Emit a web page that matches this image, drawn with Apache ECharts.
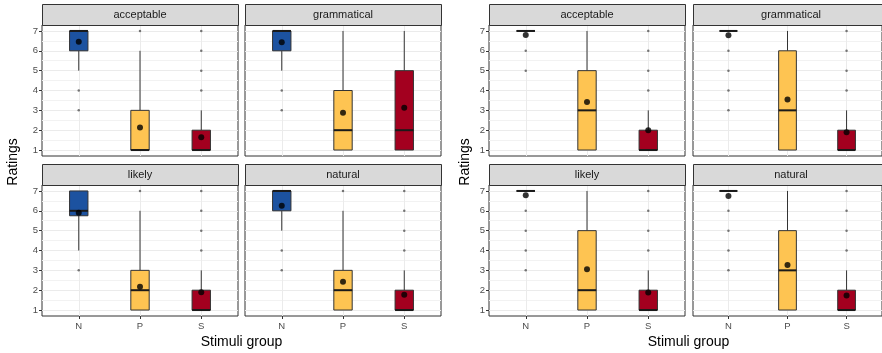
<!DOCTYPE html>
<html>
<head>
<meta charset="utf-8">
<script src="https://cdn.jsdelivr.net/npm/echarts@6/dist/echarts.min.js"></script>
<style>
  html, body { margin: 0; padding: 0; background: #fff; }
  #chart { width: 882px; height: 353px; }
</style>
</head>
<body>
<div id="chart"></div>
<script>
// 分组与分面
const groups = ['N', 'P', 'S'];
const facets = ['acceptable', 'grammatical', 'likely', 'natural'];
const ratingTicks = [1, 2, 3, 4, 5, 6, 7];
const ratingMinor = [1.5, 2.5, 3.5, 4.5, 5.5, 6.5];

// 左图：每个分面 N/P/S 的 [min, q1, median, q3, max]
const leftBoxes = [
  [[5, 6, 7, 7, 7], [1, 1, 1, 3, 6], [1, 1, 1, 2, 3]],
  [[5, 6, 7, 7, 7], [1, 1, 2, 4, 7], [1, 1, 2, 5, 7]],
  [[4, 5.75, 6, 7, 7], [1, 1, 2, 3, 6], [1, 1, 1, 2, 3]],
  [[5, 6, 7, 7, 7], [1, 1, 2, 3, 6], [1, 1, 1, 2, 3]]
];
const leftMeans = [
  [6.45, 2.13, 1.65],
  [6.43, 2.88, 3.13],
  [5.9, 2.17, 1.9],
  [6.25, 2.43, 1.77]
];
const leftOutliers = [
  [[4, 3], [7], [4, 5, 6, 7]],
  [[4, 3], [], []],
  [[3], [7], [4, 5, 6, 7]],
  [[4, 3], [7], [4, 5, 6, 7]]
];

// 右图
const rightBoxes = [
  [[7, 7, 7, 7, 7], [1, 1, 3, 5, 7], [1, 1, 1, 2, 3]],
  [[7, 7, 7, 7, 7], [1, 1, 3, 6, 7], [1, 1, 1, 2, 3]],
  [[7, 7, 7, 7, 7], [1, 1, 2, 5, 7], [1, 1, 1, 2, 3]],
  [[7, 7, 7, 7, 7], [1, 1, 3, 5, 7], [1, 1, 1, 2, 3]]
];
const rightMeans = [
  [6.8, 3.42, 2.0],
  [6.78, 3.55, 1.9],
  [6.78, 3.05, 1.88],
  [6.75, 3.27, 1.73]
];
const rightOutliers = [
  [[6, 5], [], [4, 5, 6, 7]],
  [[6, 5, 4, 3], [], [4, 5, 6, 7]],
  [[6, 5, 4, 3], [], [4, 5, 6, 7]],
  [[6, 5, 4, 3], [], [4, 5, 6, 7]]
];

const groupColors = ['#1c52a0', '#fec452', '#a3001f'];
const FONT = 'Liberation Sans, Arial, sans-serif';

// 面板位置
const panelLefts = [[42, 245], [489, 693]];
const rowTops = [25, 185];
const panelW = 196, panelH = 131, stripH = 21;

const myChart = echarts.init(document.getElementById('chart'));

const grids = [], xAxes = [], yAxes = [], series = [], graphics = [];

function renderBox(params, api) {
  const x = api.value(0);
  const lo = api.coord([x, api.value(1)]);
  const q1 = api.coord([x, api.value(2)]);
  const md = api.coord([x, api.value(3)]);
  const q3 = api.coord([x, api.value(4)]);
  const hi = api.coord([x, api.value(5)]);
  const w = api.size([0.3, 0])[0];
  return {
    type: 'group',
    children: [
      {type: 'line', shape: {x1: lo[0], y1: lo[1], x2: q1[0], y2: q1[1]}, style: {stroke: '#333', lineWidth: 1}},
      {type: 'line', shape: {x1: q3[0], y1: q3[1], x2: hi[0], y2: hi[1]}, style: {stroke: '#333', lineWidth: 1}},
      {type: 'rect', shape: {x: q1[0] - w / 2, y: q3[1], width: w, height: q1[1] - q3[1]},
        style: {fill: groupColors[x - 1], stroke: '#333', lineWidth: 1}},
      {type: 'line', shape: {x1: md[0] - w / 2, y1: md[1], x2: md[0] + w / 2, y2: md[1]},
        style: {stroke: '#1a1a1a', lineWidth: 2}}
    ]
  };
}

[[leftBoxes, leftMeans, leftOutliers], [rightBoxes, rightMeans, rightOutliers]].forEach((study, s) => {
  const [boxes, means, outliers] = study;
  facets.forEach((facet, f) => {
    const row = Math.floor(f / 2), col = f % 2;
    const gi = grids.length;
    const left = panelLefts[s][col], top = rowTops[row];
    grids.push({
      left: left, top: top, width: panelW, height: panelH,
      show: true, backgroundColor: '#fff', borderColor: '#333', borderWidth: 1
    });
    // 分面标题条
    graphics.push({
      type: 'rect', left: left, top: top - stripH, z: 10,
      shape: {width: panelW, height: stripH},
      style: {fill: '#d9d9d9', stroke: '#333', lineWidth: 1}
    });
    graphics.push({
      type: 'text', x: left + panelW / 2, y: top - stripH / 2, z: 11,
      style: {text: facet, fill: '#1a1a1a', font: '11px ' + FONT, align: 'center', verticalAlign: 'middle'}
    });

    const bottom = row === 1, first = col === 0;
    xAxes.push({
      type: 'value', gridIndex: gi, min: 0.4, max: 3.6,
      axisLine: {show: false},
      axisTick: {show: bottom, length: 3, lineStyle: {color: '#333'}, customValues: [1, 2, 3]},
      axisLabel: {show: bottom, customValues: [1, 2, 3], formatter: v => groups[v - 1],
        color: '#4d4d4d', fontSize: 9.5, fontFamily: FONT, margin: 5},
      splitLine: {show: true, lineStyle: {color: '#ebebeb', width: 1}}
    });
    yAxes.push({
      type: 'value', gridIndex: gi, min: 0.7, max: 7.3,
      axisLine: {show: false},
      axisTick: {show: first, length: 3, lineStyle: {color: '#333'}, customValues: ratingTicks},
      axisLabel: {show: first, customValues: ratingTicks, color: '#4d4d4d', fontSize: 9.5, fontFamily: FONT, margin: 4},
      splitLine: {show: true, lineStyle: {color: '#ebebeb', width: 1}}
    });
    yAxes.push({
      type: 'value', gridIndex: gi, min: 0.7, max: 7.3,
      axisLine: {show: false},
      axisTick: {show: false, customValues: ratingMinor},
      axisLabel: {show: false},
      splitLine: {show: true, lineStyle: {color: '#f2f2f2', width: 1}}
    });

    const yi = yAxes.length - 2;
    series.push({
      type: 'custom', xAxisIndex: gi, yAxisIndex: yi,
      renderItem: renderBox,
      encode: {x: 0, y: [1, 2, 3, 4, 5]},
      data: boxes[f].map((b, g) => [g + 1].concat(b)),
      z: 3
    });
    const outPts = [];
    outliers[f].forEach((vals, g) => vals.forEach(v => outPts.push([g + 1, v])));
    series.push({
      type: 'scatter', xAxisIndex: gi, yAxisIndex: yi,
      symbolSize: 2.5, itemStyle: {color: '#555'},
      data: outPts, z: 4, silent: true
    });
    series.push({
      type: 'scatter', xAxisIndex: gi, yAxisIndex: yi,
      symbolSize: 6, itemStyle: {color: '#000'},
      data: means[f].map((m, g) => [g + 1, m]), z: 5
    });
  });
});

// 轴标题
[[13, 241.5], [465, 688.5]].forEach(([yx, xc]) => {
  graphics.push({
    type: 'text', x: yx, y: 162, rotation: Math.PI / 2,
    style: {text: 'Ratings', fill: '#000', font: '14px ' + FONT, align: 'center', verticalAlign: 'middle'}
  });
  graphics.push({
    type: 'text', x: xc, y: 342,
    style: {text: 'Stimuli group', fill: '#000', font: '14px ' + FONT, align: 'center', verticalAlign: 'middle'}
  });
});

myChart.setOption({
  animation: false,
  grid: grids,
  xAxis: xAxes,
  yAxis: yAxes,
  series: series,
  graphic: graphics
});
</script>
</body>
</html>
